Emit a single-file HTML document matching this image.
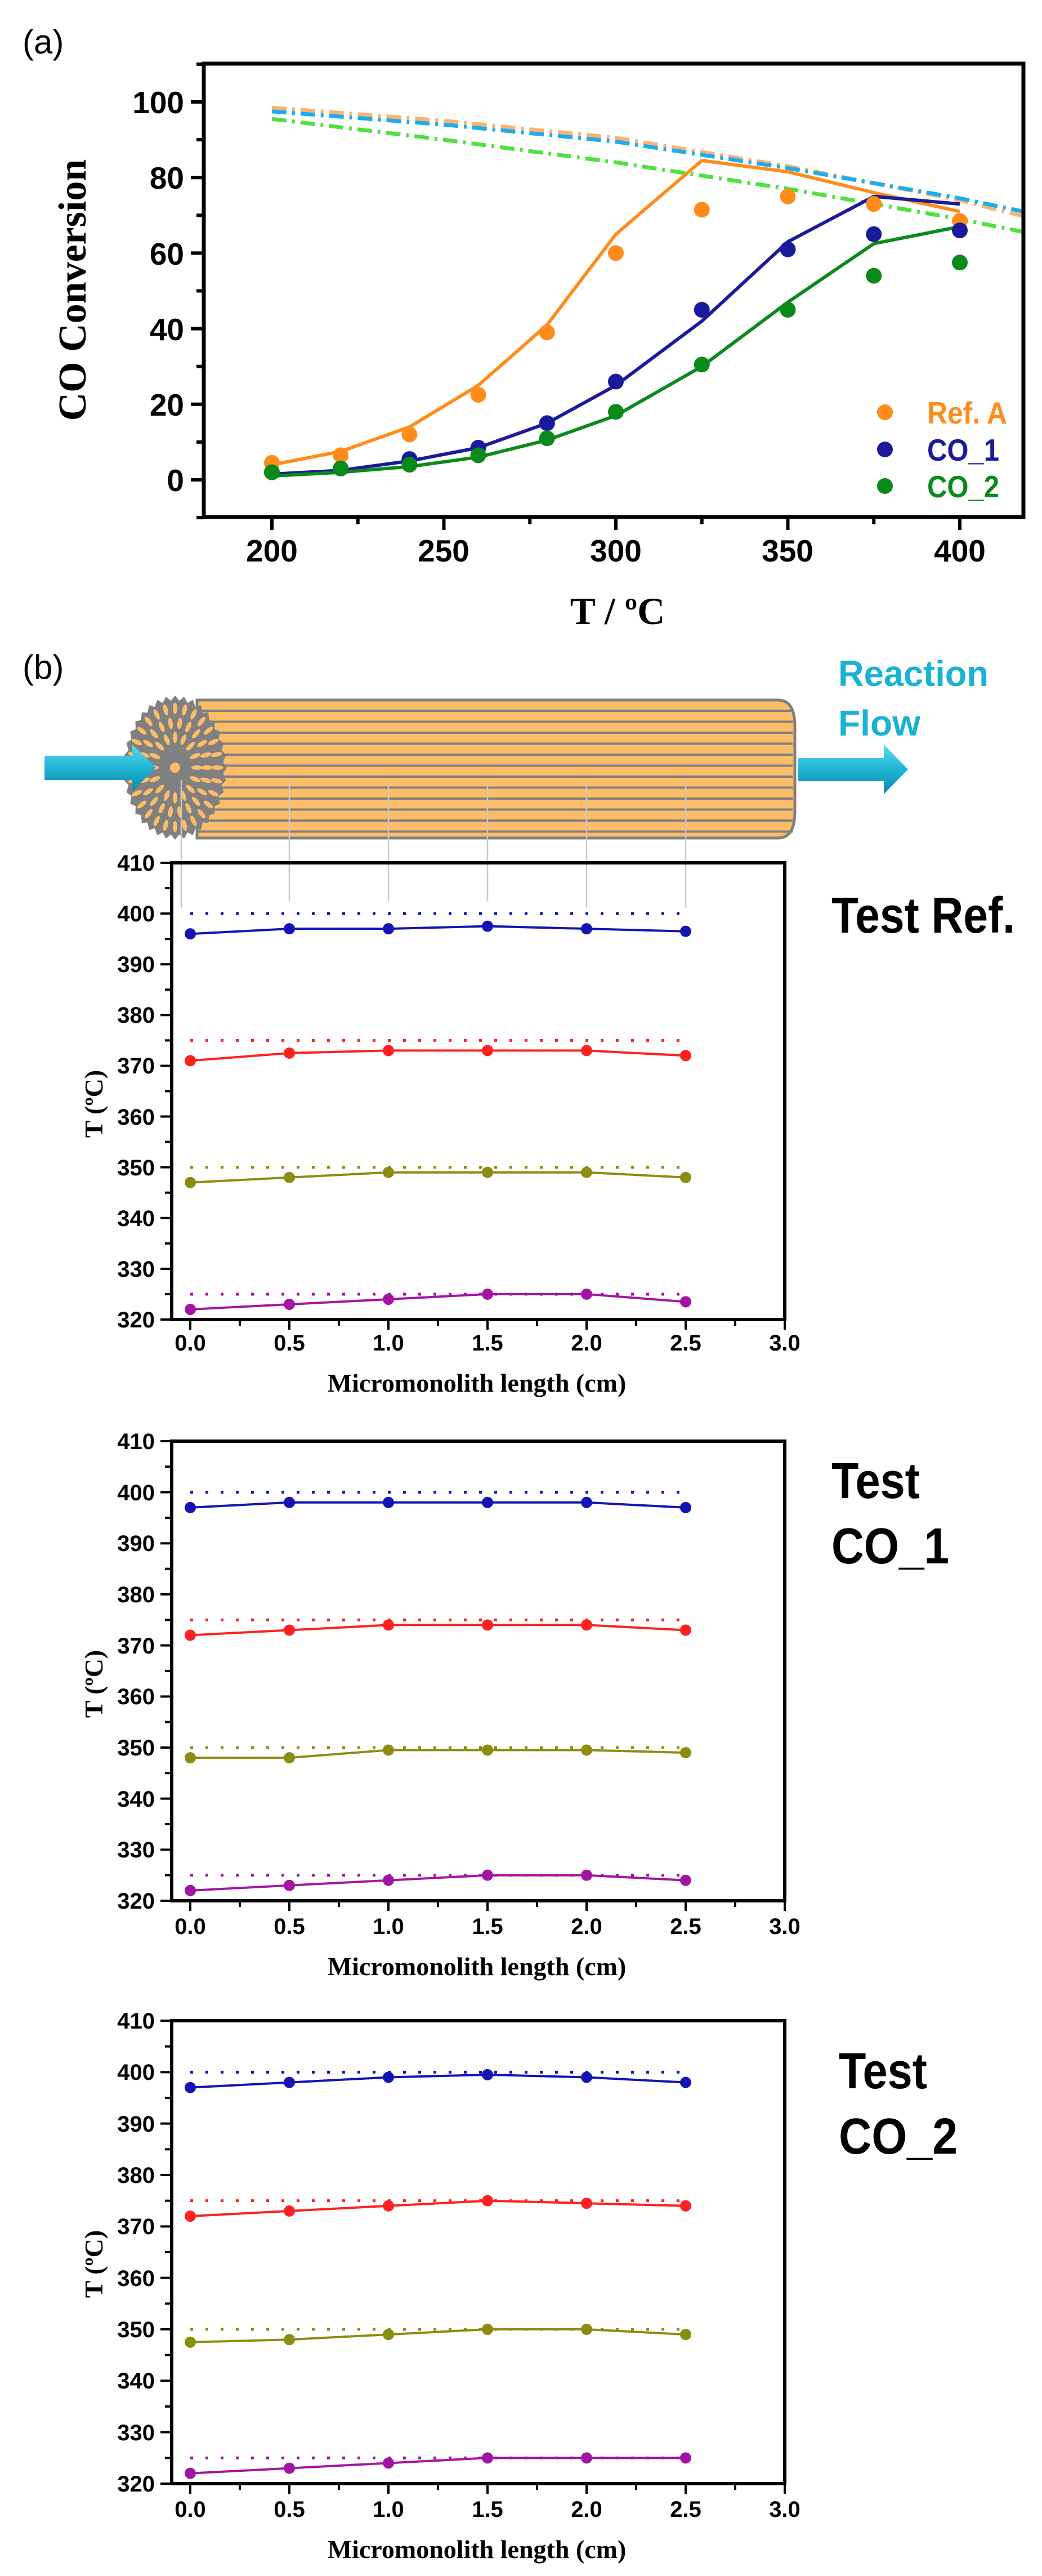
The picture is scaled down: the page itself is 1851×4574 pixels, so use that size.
<!DOCTYPE html>
<html><head><meta charset="utf-8"><style>
html,body{margin:0;padding:0;background:#fff;}
svg{display:block;}
.tk{font-family:"Liberation Sans",sans-serif;font-weight:bold;}
.sf{font-family:"Liberation Serif",serif;font-weight:bold;}
</style></head><body>
<svg id="s" width="1851" height="4574" viewBox="0 0 1851 4574" xmlns="http://www.w3.org/2000/svg">
<rect width="1851" height="4574" fill="#fff"/>
<g id="shapes"></g>
<!-- (a) texts -->
<text x="40" y="95" class="tk" font-size="60" style="font-weight:normal">(a)</text>
<g class="tk" font-size="55" text-anchor="end">
<text x="327" y="872">0</text><text x="327" y="738">20</text><text x="327" y="604">40</text>
<text x="327" y="470">60</text><text x="327" y="335">80</text><text x="327" y="201">100</text>
</g>
<g class="tk" font-size="55" text-anchor="middle">
<text x="483" y="997">200</text><text x="788" y="997">250</text><text x="1094" y="997">300</text>
<text x="1399" y="997">350</text><text x="1705" y="997">400</text>
</g>
<text class="sf" font-size="70" text-anchor="middle" transform="translate(152,515) rotate(-90)">CO Conversion</text>
<text class="sf" font-size="68" x="1097" y="1108" text-anchor="middle">T / ºC</text>
<g class="tk" font-size="55">
<text x="1647" y="752" fill="#ff8c1a" textLength="142" lengthAdjust="spacingAndGlyphs">Ref. A</text>
<text x="1647" y="818" fill="#1a1a9c" textLength="128" lengthAdjust="spacingAndGlyphs">CO_1</text>
<text x="1647" y="883" fill="#0a8a1a" textLength="128" lengthAdjust="spacingAndGlyphs">CO_2</text>
</g>
<!-- (b) texts -->
<text x="40" y="1205" class="tk" font-size="60" style="font-weight:normal">(b)</text>
<g class="tk" font-size="64" fill="#1ab2d2">
<text x="1489" y="1218" textLength="267" lengthAdjust="spacingAndGlyphs">Reaction</text><text x="1489" y="1306" textLength="146" lengthAdjust="spacingAndGlyphs">Flow</text>
</g>
<g class="tk" font-size="90" fill="#000">
<text x="1477" y="1656" textLength="326" lengthAdjust="spacingAndGlyphs">Test Ref.</text>
<text x="1477" y="2660" textLength="157" lengthAdjust="spacingAndGlyphs">Test</text><text x="1477" y="2776" textLength="209" lengthAdjust="spacingAndGlyphs">CO_1</text>
<text x="1490" y="3708" textLength="157" lengthAdjust="spacingAndGlyphs">Test</text><text x="1490" y="3824" textLength="211" lengthAdjust="spacingAndGlyphs">CO_2</text>
</g>
<!-- plot tick labels -->
<g class="tk" font-size="40" text-anchor="end">
<text x="275" y="1546">410</text><text x="275" y="1636">400</text><text x="275" y="1726">390</text><text x="275" y="1816">380</text><text x="275" y="1906">370</text><text x="275" y="1997">360</text><text x="275" y="2087">350</text><text x="275" y="2177">340</text><text x="275" y="2267">330</text><text x="275" y="2357">320</text>
<text x="275" y="2573">410</text><text x="275" y="2664">400</text><text x="275" y="2754">390</text><text x="275" y="2845">380</text><text x="275" y="2936">370</text><text x="275" y="3026">360</text><text x="275" y="3117">350</text><text x="275" y="3208">340</text><text x="275" y="3298">330</text><text x="275" y="3389">320</text>
<text x="275" y="3602">410</text><text x="275" y="3693">400</text><text x="275" y="3785">390</text><text x="275" y="3876">380</text><text x="275" y="3967">370</text><text x="275" y="4059">360</text><text x="275" y="4150">350</text><text x="275" y="4241">340</text><text x="275" y="4333">330</text><text x="275" y="4424">320</text>
</g>
<g class="tk" font-size="40" text-anchor="middle">
<text x="338" y="2398">0.0</text><text x="514" y="2398">0.5</text><text x="690" y="2398">1.0</text><text x="866" y="2398">1.5</text><text x="1042" y="2398">2.0</text><text x="1218" y="2398">2.5</text><text x="1394" y="2398">3.0</text>
<text x="338" y="3434">0.0</text><text x="514" y="3434">0.5</text><text x="690" y="3434">1.0</text><text x="866" y="3434">1.5</text><text x="1042" y="3434">2.0</text><text x="1218" y="3434">2.5</text><text x="1394" y="3434">3.0</text>
<text x="338" y="4469">0.0</text><text x="514" y="4469">0.5</text><text x="690" y="4469">1.0</text><text x="866" y="4469">1.5</text><text x="1042" y="4469">2.0</text><text x="1218" y="4469">2.5</text><text x="1394" y="4469">3.0</text>
</g>
<g class="sf" font-size="46" text-anchor="middle">
<text x="847" y="2471">Micromonolith length (cm)</text>
<text x="847" y="3507">Micromonolith length (cm)</text>
<text x="847" y="4542">Micromonolith length (cm)</text>
<text transform="translate(182,1960) rotate(-90)">T (ºC)</text>
<text transform="translate(182,2990) rotate(-90)">T (ºC)</text>
<text transform="translate(182,4020) rotate(-90)">T (ºC)</text>
</g>
</svg>
<script>
var NS="http://www.w3.org/2000/svg",G=document.getElementById("shapes");
function el(t,a){var e=document.createElementNS(NS,t);for(var k in a)e.setAttribute(k,a[k]);G.appendChild(e);return e;}
function line(x1,y1,x2,y2,c,w,extra){var a={x1:x1,y1:y1,x2:x2,y2:y2,stroke:c,"stroke-width":w};for(var k in extra)a[k]=extra[k];return el("line",a);}
function pl(pts,c,w,extra){var a={points:pts.map(function(p){return p[0].toFixed(1)+","+p[1].toFixed(1)}).join(" "),fill:"none",stroke:c,"stroke-width":w,"stroke-linejoin":"round"};for(var k in extra)a[k]=extra[k];return el("polyline",a);}
// ---- chart a
function AX(v){return 483+(v-200)*6.11;} function AY(v){return 852-v*6.71;}
var XS=[200,220,240,260,280,300,325,350,375,400];
function curve(arr,c){pl(arr.map(function(p){return [AX(p[0]),AY(p[1])]}),c,7,{"stroke-dasharray":"26,10,5,10"});}
curve([[200,98.5],[250,95],[300,90.5],[350,83],[400,74],[418.5,69.8]],"#ffb070");
curve([[200,97.5],[250,94],[300,89.5],[350,82.5],[400,74.5],[418.5,71]],"#1aaef0");
curve([[200,95.5],[250,90],[300,84],[350,77],[400,69],[418.5,65.6]],"#50e040");
var S=[
 {c:"#ff8c1a",l:[4,7.5,14,25,41,65,84.5,81.5,76,71],d:[4.5,6.5,12,22.5,39,60,71.5,75,73,68.5]},
 {c:"#1a1a9c",l:[1.5,2.5,5,8.5,15,25,42,63,75,73],d:[2,3,5.5,8.5,15,26,45,61,65,66]},
 {c:"#0a8a1a",l:[1,2,3.5,6,10.5,17,30,47,62.5,67],d:[2,3,4,6.5,11,18,30.5,45,54,57.5]}];
S.forEach(function(s){pl(XS.map(function(x,i){return [AX(x),AY(s.l[i])]}),s.c,6);});
S.forEach(function(s){XS.forEach(function(x,i){el("circle",{cx:AX(x),cy:AY(s.d[i]),r:14,fill:s.c});});});
el("circle",{cx:1572,cy:732,r:14,fill:"#ff8c1a"});el("circle",{cx:1572,cy:798,r:14,fill:"#1a1a9c"});el("circle",{cx:1572,cy:863,r:14,fill:"#0a8a1a"});
el("rect",{x:362,y:113,width:1456,height:805,fill:"none",stroke:"#000","stroke-width":7});
for(var v=-10;v<=110;v+=10){var y=AY(v);var maj=(v%20==0);line(362,y,maj?339:349,y,"#000",6);}
for(var v=200;v<=410;v+=25){var x=AX(v);var maj=(v%50==0);line(x,918,x,maj?941:931,"#000",6);}
// ---- cylinder
var d=el("defs",{});
d.innerHTML='<linearGradient id="ar" x1="0" y1="0" x2="0" y2="1"><stop offset="0" stop-color="#5fd8ee"/><stop offset="0.5" stop-color="#1fb5d5"/><stop offset="1" stop-color="#0d8aa8"/></linearGradient>';
el("path",{d:"M350,1243 H1382 Q1412,1243 1412,1290 V1441 Q1412,1488 1382,1488 H350 Z",fill:"#fdbd68",stroke:"#808080","stroke-width":5});
for(var i=0;i<12;i++){var y=1262+i*19.5;line(350,y,1408,y,"#808080",4);}
var gp="";for(var i=0;i<=72;i++){var a=i/72*2*Math.PI;var r=(i%2==0)?1:0.93;gp+=(i?"L":"M")+(311+92*r*Math.cos(a)).toFixed(1)+","+(1363+128*r*Math.sin(a)).toFixed(1);}
el("path",{d:gp+"Z",fill:"#808080"});
for(var ring=0;ring<3;ring++){var rr=[0.82,0.62,0.42][ring];var n=[28,22,16][ring];for(var i=0;i<n;i++){var a=i/n*2*Math.PI;var cx=311+92*rr*Math.cos(a),cy=1363+128*rr*Math.sin(a);el("ellipse",{cx:cx,cy:cy,rx:4,ry:10,fill:"#fdbd68",transform:"rotate("+(a*180/Math.PI+90)+" "+cx+" "+cy+")"});}}
el("circle",{cx:311,cy:1363,r:9,fill:"#fdbd68"});
el("path",{d:"M79,1342 H235 V1322 L277,1363 L235,1405 V1385 H79 Z",fill:"url(#ar)"});
el("path",{d:"M1418,1346 H1570 V1322 L1613,1366 L1570,1410 V1387 H1418 Z",fill:"url(#ar)"});
[[322,1612],[514,1600],[690,1600],[866,1600],[1042,1612],[1218,1612]].forEach(function(p){line(p[0],1385,p[0],p[1],"#c8c8c8",2.5);});
// ---- plots b
var P=[
 {t:1532,h:811,D:[[396,397,397,397.5,397,396.5],[371,372.5,373,373,373,372],[347,348,349,349,349,348],[322,323,324,325,325,323.5]]},
 {t:2559,h:816,D:[[397,398,398,398,398,397],[372,373,374,374,374,373],[348,348,349.5,349.5,349.5,349],[322,323,324,325,325,324]]},
 {t:3588,h:822,D:[[397,398,399,399.5,399,398],[372,373,374,375,374.5,374],[347.5,348,349,350,350,349],[322,323,324,325,325,325]]}];
var C=["#1414b4","#ff2020","#8c8c10","#a414a4"],R=[400,375,350,325];
P.forEach(function(p){
 function Y(v){return p.t+(410-v)*p.h/90;} function X(v){return 338+v*352;}
 for(var k=0;k<4;k++){
  line(X(0),Y(R[k]),X(2.5),Y(R[k]),C[k],5,{"stroke-dasharray":"5,22"});
  var pts=[];for(var i=0;i<6;i++)pts.push([X(i*0.5),Y(p.D[k][i])]);
  pl(pts,C[k],4);
  pts.forEach(function(q){el("circle",{cx:q[0],cy:q[1],r:10,fill:C[k]});});
 }
 el("rect",{x:305,y:p.t,width:1089,height:p.h,fill:"none",stroke:"#000","stroke-width":6});
 for(var v=320;v<=410;v+=5){var y=Y(v);line(305,y,(v%10==0)?285:293,y,"#000",4);}
 for(var v=0;v<=3.001;v+=0.25){var x=X(v);var maj=Math.abs(v*2-Math.round(v*2))<0.01;line(x,p.t+p.h,x,p.t+p.h+(maj?18:11),"#000",4);}
});
</script>
</body></html>
